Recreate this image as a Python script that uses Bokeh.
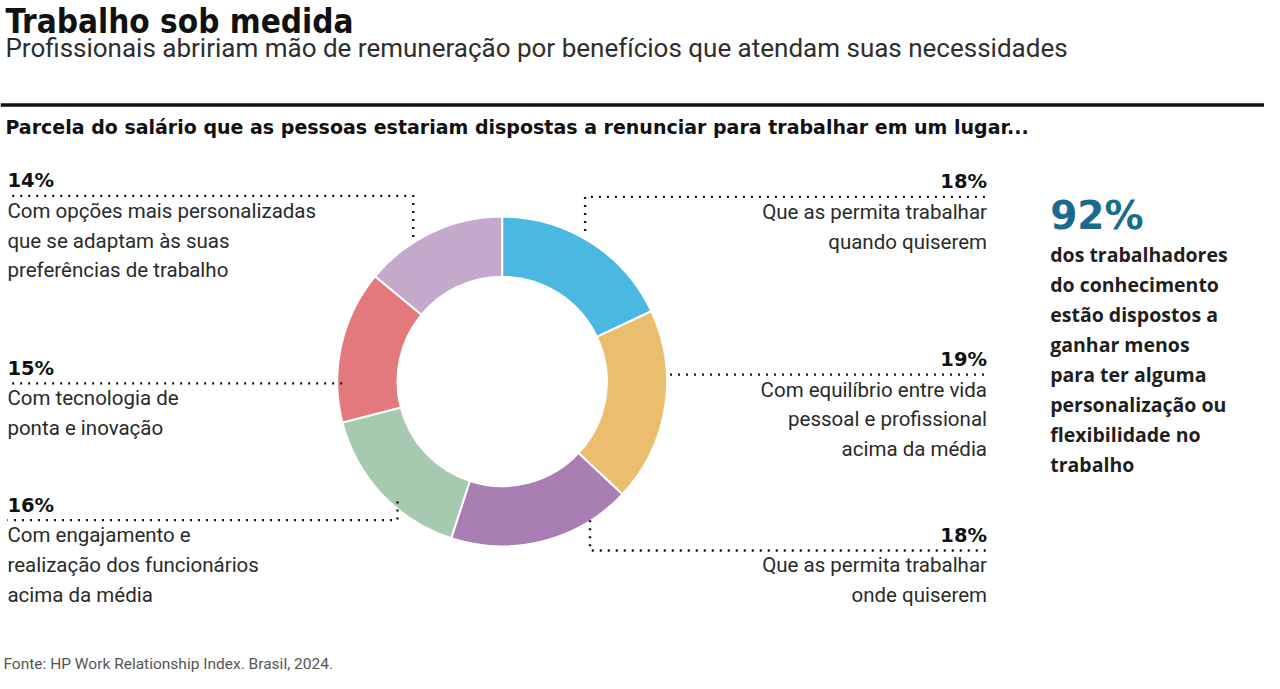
import numpy as np
from bokeh.plotting import figure
from bokeh.models import Range1d
from bokeh.core.properties import value
from bokeh.embed import file_html
from bokeh.resources import INLINE

# ---------------- data ----------------
title = "Trabalho sob medida"
subtitle = "Profissionais abririam mão de remuneração por benefícios que atendam suas necessidades"
heading = "Parcela do salário que as pessoas estariam dispostas a renunciar para trabalhar em um lugar..."
source_note = "Fonte: HP Work Relationship Index. Brasil, 2024."

categories = [
    "Que as permita trabalhar quando quiserem",
    "Com equilíbrio entre vida pessoal e profissional acima da média",
    "Que as permita trabalhar onde quiserem",
    "Com engajamento e realização dos funcionários acima da média",
    "Com tecnologia de ponta e inovação",
    "Com opções mais personalizadas que se adaptam às suas preferências de trabalho",
]
shares = [18, 19, 18, 16, 15, 14]
label_lines = [
    ["Que as permita trabalhar", "quando quiserem"],
    ["Com equilíbrio entre vida", "pessoal e profissional", "acima da média"],
    ["Que as permita trabalhar", "onde quiserem"],
    ["Com engajamento e", "realização dos funcionários", "acima da média"],
    ["Com tecnologia de", "ponta e inovação"],
    ["Com opções mais personalizadas", "que se adaptam às suas", "preferências de trabalho"],
]
colors = ["#4ab8e1", "#ebbe6d", "#a87eb3", "#a6caaf", "#e3797d", "#c4a9ca"]

highlight_value = "92%"
highlight_lines = ["dos trabalhadores", "do conhecimento", "estão dispostos a",
                   "ganhar menos", "para ter alguma", "personalização ou",
                   "flexibilidade no", "trabalho"]

# ---------------- layout (reference pixel coordinates) ----------------
W, H = 1264, 673
REF_W, REF_H = 1280, 689
CX, CY = 508, 390
R_IN, R_OUT = 106, 167

leaders = [
    ([592, 592, 998], [236, 201, 201], "right"),
    ([678, 998], [383, 383], "right"),
    ([597, 597, 998], [532, 563, 563], "right"),
    ([402, 402, 7], [513, 532, 532], "left"),
    ([346, 7], [392, 392], "left"),
    ([418, 418, 7], [242, 200, 200], "left"),
]
TEXT_X_LEFT = 7
TEXT_X_RIGHT = 999
LINE_GAP = 30.5
BASE_K = 0.37  # empirical shift of the rendered baseline, per px of font size

FONT = "Roboto"
TXT = "#2a2a2a"

p = figure(width=W, height=H, x_range=Range1d(0, REF_W), y_range=Range1d(-REF_H, 0),
           output_backend="svg", toolbar_location=None, min_border=0,
           x_axis_location=None, y_axis_location=None)
p.grid.visible = False
p.outline_line_color = None
p.background_fill_color = "white"
p.border_fill_color = "white"


def txt(x, baselines, texts, size, font=FONT, bold=False, align="left", color=TXT):
    ys = [-(b - BASE_K * size) for b in baselines]
    p.text(x=[x] * len(texts), y=ys, text=texts, text_font=value(font),
           text_font_style="bold" if bold else "normal", text_font_size=f"{size}px",
           text_align=align, text_baseline="alphabetic", text_color=color)


# ---- donut ----
cum = np.concatenate([[0], np.cumsum(shares)])
total = cum[-1]
start = np.pi / 2 - 2 * np.pi * cum[:-1] / total
end = np.pi / 2 - 2 * np.pi * cum[1:] / total
p.annular_wedge(x=CX, y=-CY, inner_radius=R_IN, outer_radius=R_OUT,
                start_angle=start, end_angle=end, direction="clock",
                fill_color=colors, line_color="white", line_width=2)

# ---- leaders and labels ----
for i, (xs, ys, side) in enumerate(leaders):
    p.line(xs, [-y for y in ys], line_color="#111111", line_width=2.4, line_dash="2 6")
    ly = ys[-1]
    tx = TEXT_X_RIGHT if side == "right" else TEXT_X_LEFT
    txt(tx, [ly - 8], [f"{shares[i]}%"], 19.5, font="DejaVu Sans", bold=True,
        align=side, color="#111111")
    n = len(label_lines[i])
    txt(tx, [ly + 23 + LINE_GAP * k for k in range(n)], label_lines[i], 20.5, align=side)

# ---- header ----
txt(5, [34], [title], 33, font="DejaVu Sans Condensed, Roboto", bold=True, color="#111111")
txt(5, [58], [subtitle], 26, color="#2e2e2e")
p.line([0, REF_W], [-107, -107], line_color="#111111", line_width=3.5)
txt(5, [137], [heading], 19, font="DejaVu Sans", bold=True, color="#111111")

# ---- right highlight ----
txt(1063, [235], [highlight_value], 39, font="DejaVu Sans", bold=True, color="#1a6a8e")
txt(1063, [267 + 30.7 * k for k in range(len(highlight_lines))], highlight_lines, 19.5,
    font="Open Sans", bold=True, color="#1e1e1e")

# ---- footer ----
txt(3, [685], [source_note], 15.5, color="#555555")

open("out.html", "w").write(file_html(p, INLINE))
